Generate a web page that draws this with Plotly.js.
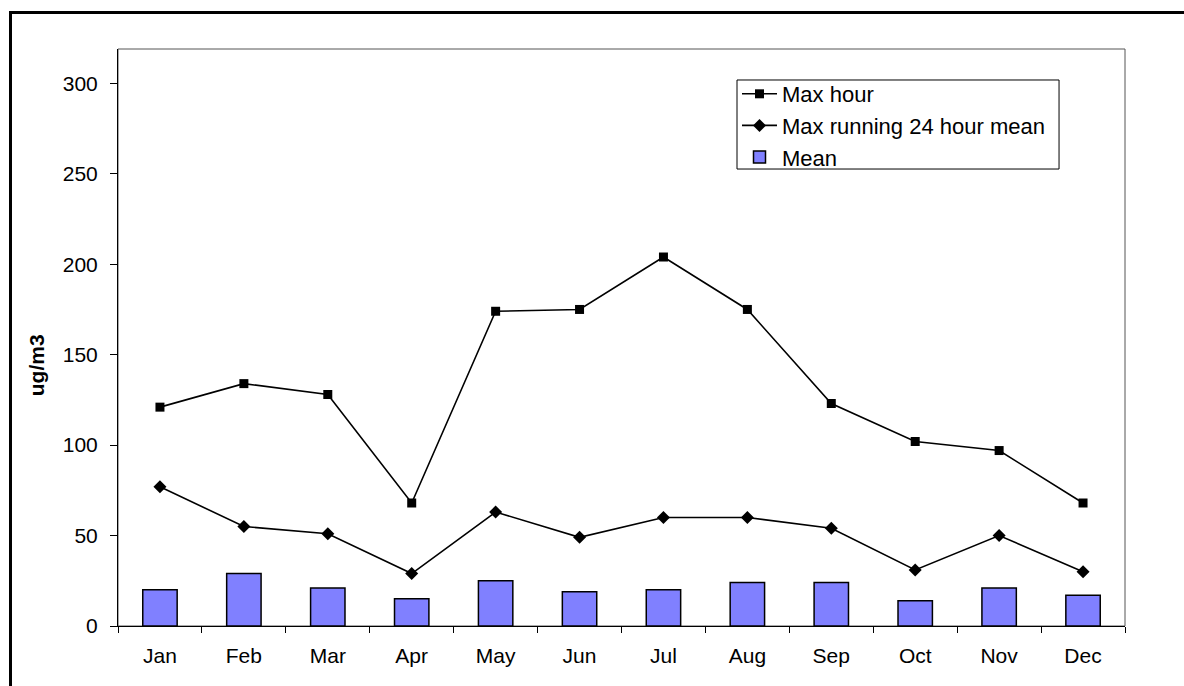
<!DOCTYPE html>
<html>
<head>
<meta charset="utf-8">
<script src="https://cdn.plot.ly/plotly-3.0.1.min.js"></script>
<style>
  html, body { margin: 0; padding: 0; background: #ffffff; overflow: hidden; }
  #frame { position: absolute; left: 9px; top: 11px; width: 1200px; height: 720px; border: 3px solid #000; box-sizing: border-box; }
  #chart { position: absolute; left: 0; top: 0; width: 1184px; height: 686px; }
</style>
</head>
<body>
<div id="frame"></div>
<div id="chart"></div>
<script>
const months = ['Jan', 'Feb', 'Mar', 'Apr', 'May', 'Jun', 'Jul', 'Aug', 'Sep', 'Oct', 'Nov', 'Dec'];
const maxHour = [121, 134, 128, 68, 174, 175, 204, 175, 123, 102, 97, 68];
const maxRunning24 = [77, 55, 51, 29, 63, 49, 60, 60, 54, 31, 50, 30];
const meanValues = [20, 29, 21, 15, 25, 19, 20, 24, 24, 14, 21, 17];
const yTickValues = [0, 50, 100, 150, 200, 250, 300];
const seriesNames = ['Max hour', 'Max running 24 hour mean', 'Mean'];
const yTitle = 'ug/m3';

const FONT = '"Liberation Sans", Arial, sans-serif';
const yRange = [0, 319];
const boundaries = months.map((_, i) => i - 0.5).concat([months.length - 0.5]);

const traces = [
  {
    type: 'scatter', mode: 'lines+markers', name: seriesNames[0],
    x: months, y: maxHour,
    line: { color: '#000', width: 1.6 },
    marker: { symbol: 'square', size: 9, color: '#000' },
    hoverinfo: 'x+y+name'
  },
  {
    type: 'scatter', mode: 'lines+markers', name: seriesNames[1],
    x: months, y: maxRunning24,
    line: { color: '#000', width: 1.6 },
    marker: { symbol: 'diamond', size: 10, color: '#000' },
    hoverinfo: 'x+y+name'
  },
  {
    type: 'bar', name: seriesNames[2],
    x: months, y: meanValues,
    width: 0.41,
    marker: { color: '#8080FF', line: { color: '#000', width: 1.5 } },
    hoverinfo: 'x+y+name'
  }
];

const layout = {
  width: 1184, height: 686,
  margin: { l: 118, r: 59, t: 49, b: 60 },
  paper_bgcolor: 'rgba(0,0,0,0)',
  plot_bgcolor: '#ffffff',
  font: { family: FONT, size: 21, color: '#000' },
  showlegend: true,
  legend: {
    x: 0.6147, y: 0.9584, xanchor: 'left', yanchor: 'top',
    bgcolor: 'rgba(0,0,0,0)', borderwidth: 0,
    font: { family: FONT, size: 22, color: '#000' },
    traceorder: 'normal', itemwidth: 35, tracegroupgap: 0
  },
  xaxis: {
    type: 'category', range: [-0.5, months.length - 0.5],
    tickson: 'boundaries', ticks: 'outside', ticklen: 6, tickcolor: '#000', tickwidth: 1,
    showline: true, linecolor: '#000', linewidth: 1,
    showgrid: false, zeroline: false,
    tickfont: { family: FONT, size: 21, color: '#000' },
    ticklabelstandoff: 11,
    fixedrange: true
  },
  xaxis2: {
    overlaying: 'x', anchor: 'y', type: 'linear', range: [-0.5, months.length - 0.5],
    tickmode: 'array', tickvals: boundaries, ticks: 'inside', ticklen: 6, tickcolor: '#000',
    showticklabels: false, showline: false, showgrid: false, zeroline: false, side: 'bottom',
    fixedrange: true
  },
  yaxis: {
    range: yRange, tickmode: 'array', tickvals: yTickValues,
    ticks: 'outside', ticklen: 7, tickcolor: '#000', tickwidth: 1,
    showline: true, linecolor: '#000', linewidth: 1,
    showgrid: false, zeroline: false,
    tickfont: { family: FONT, size: 21, color: '#000' },
    ticklabelstandoff: 8,
    fixedrange: true
  },
  yaxis2: {
    overlaying: 'y', anchor: 'x', range: yRange, tickmode: 'array', tickvals: yTickValues,
    ticks: 'inside', ticklen: 7, tickcolor: '#000', side: 'left',
    showticklabels: false, showline: false, showgrid: false, zeroline: false,
    fixedrange: true
  },
  shapes: [
    { type: 'rect', xref: 'paper', yref: 'paper', x0: 0, x1: 1, y0: 0, y1: 1,
      line: { color: '#555', width: 1 }, layer: 'below' },
    { type: 'rect', xref: 'paper', yref: 'paper', x0: 0.6147, x1: 0.9345, y0: 0.792, y1: 0.9463,
      line: { color: '#000', width: 1 }, fillcolor: '#fff', layer: 'above' }
  ],
  annotations: [
    { text: '<b>' + yTitle + '</b>', xref: 'paper', yref: 'paper',
      x: -0.0814, y: 0.452, xanchor: 'center', yanchor: 'middle',
      textangle: -90, showarrow: false,
      font: { family: FONT, size: 21, color: '#000' } }
  ]
};

Plotly.newPlot('chart', traces, layout, { displayModeBar: false });
</script>
</body>
</html>
